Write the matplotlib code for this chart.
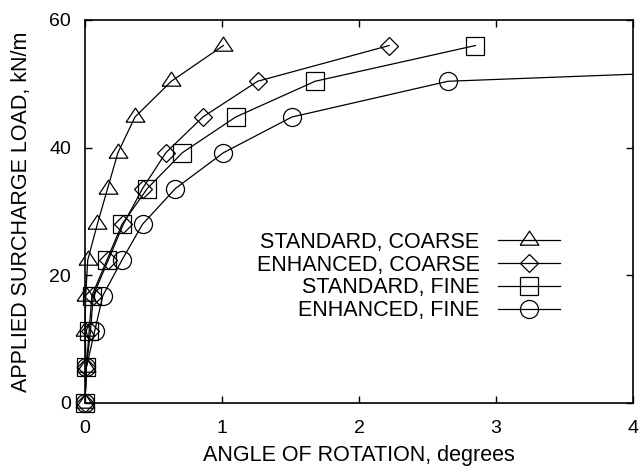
import numpy as np
import matplotlib
matplotlib.use('Agg')
import matplotlib.pyplot as plt

plt.rcParams['font.family'] = ['Liberation Sans', 'DejaVu Sans']
plt.rcParams['font.size'] = 15

# applied surcharge load levels, kN/m
load = [0, 5.6, 11.2, 16.8, 22.4, 28.0, 33.6, 39.2, 44.8, 50.4, 56.0]

# angle of rotation, degrees
std_coarse = [0, 0.01, 0.0, 0.005, 0.02, 0.09, 0.165, 0.24, 0.365, 0.63, 1.01]
enh_coarse = [0, 0.01, 0.04, 0.06, 0.17, 0.28, 0.42, 0.59, 0.86, 1.26, 2.22]
std_fine = [0, 0.01, 0.03, 0.05, 0.16, 0.27, 0.455, 0.71, 1.10, 1.68, 2.85]
enh_fine = [0, 0.01, 0.07, 0.13, 0.27, 0.42, 0.66, 1.01, 1.51, 2.65, 9.5]

labels = ['STANDARD, COARSE', 'ENHANCED, COARSE', 'STANDARD, FINE', 'ENHANCED, FINE']
series = [std_coarse, enh_coarse, std_fine, enh_fine]

# gnuplot-like flat triangle (wider than tall), centred on its centroid
tri = [(-1, -0.5), (1, -0.5), (0, 1.0), (-1, -0.5)]
markers = [tri, 'D', 's', 'o']
msizes = [13.5, 9, 13, 13]

xmax = 4

fig = plt.figure(figsize=(6.41, 4.68), dpi=100)
ax = fig.add_axes([0.1326, 0.1389, 0.8549, 0.8184])

handles = []
for x, lab, m, ms in zip(series, labels, markers, msizes):
    x = np.array(x)
    y = np.array(load)
    # the line is clipped at the frame, the markers are not
    ax.plot(x, y, color='black', lw=0.9)
    inside = x <= xmax
    ax.plot(x[inside], y[inside], ls='none', marker=m, ms=ms, mfc='none',
            mec='black', mew=0.9, clip_on=False)
    h, = ax.plot([], [], color='black', lw=0.9, marker=m, ms=ms,
                 mfc='none', mec='black', mew=0.9, label=lab)
    handles.append(h)

ax.set_xlim(0, xmax)
ax.set_ylim(0, 60)
ax.set_xticks([0, 1, 2, 3, 4])
ax.set_yticks([0, 20, 40, 60])
ax.tick_params(direction='in', top=True, right=True, length=5, width=1,
               labelsize=14)
ax.tick_params(axis='x', pad=12)
ax.tick_params(axis='y', pad=10)
for s in ax.spines.values():
    s.set_linewidth(1.2)

ax.set_xlabel('ANGLE OF ROTATION, degrees', fontsize=15.5)
ax.set_ylabel('APPLIED SURCHARGE LOAD, kN/m', fontsize=15.5)
ax.xaxis.set_label_coords(0.5, -0.11)
ax.yaxis.set_label_coords(-0.097, 0.5)

ax.legend(handles=handles, loc='center right', bbox_to_anchor=(0.867, 0.33),
          frameon=False, markerfirst=False, handlelength=2.9,
          handletextpad=0.85, labelspacing=0.08, borderpad=0,
          borderaxespad=0, fontsize=15.5)

fig.savefig('out.png', dpi=100)
